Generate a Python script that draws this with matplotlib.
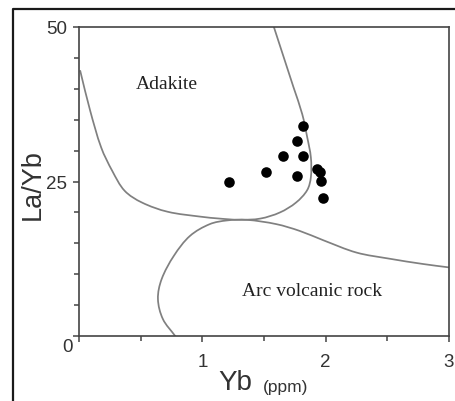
import math
import matplotlib
matplotlib.use("Agg")
import matplotlib.pyplot as plt
from matplotlib.lines import Line2D
from matplotlib.path import Path
from matplotlib.patches import PathPatch
from matplotlib.transforms import ScaledTranslation

# Sample analyses (Yb in ppm, La/Yb ratio)
yb = [1.22, 1.52, 1.65, 1.77, 1.82, 1.82, 1.77, 1.93, 1.955, 1.96, 1.98]
la_yb = [25.0, 26.5, 29.2, 31.6, 34.0, 29.1, 25.9, 27.1, 26.5, 25.1, 22.4]

# Adakite field boundary
adakite_x = [0.01, 0.09, 0.18, 0.27, 0.37, 0.51, 0.72, 0.99, 1.14, 1.30, 1.47,
             1.63, 1.76, 1.85, 1.88, 1.88, 1.85, 1.81, 1.74, 1.66, 1.58]
adakite_y = [42.9, 36.5, 30.5, 26.7, 23.5, 21.6, 20.1, 19.3, 19.0, 18.8, 19.0,
             20.0, 21.6, 23.6, 25.7, 28.9, 32.2, 35.9, 40.2, 45.1, 50.0]

# Arc volcanic rock field boundary
arc_x = [3.0, 2.79, 2.52, 2.25, 1.98, 1.79, 1.60, 1.36, 1.20, 1.06, 0.90,
         0.77, 0.67, 0.64, 0.68, 0.78]
arc_y = [11.1, 11.65, 12.5, 13.5, 15.5, 17.0, 18.1, 18.8, 18.7, 18.1, 16.2,
         13.0, 9.2, 6.0, 2.75, 0.0]

x_ticks = [0, 1, 2, 3]
x_tick_labels = ["", "1", "2", "3"]
y_ticks = [0, 25, 50]
y_tick_labels = ["0", "25", "50"]

# approximate screen scale of one data unit, used to keep curves round
SX, SY = 123.3, 6.18


def smooth_path(xs, ys):
    """Cubic Bezier path through every vertex with chord-scaled tangents."""
    pts = [(x * SX, y * SY) for x, y in zip(xs, ys)]
    n = len(pts)

    def unit_tangent(i):
        a = pts[max(i - 1, 0)]
        b = pts[min(i + 1, n - 1)]
        dx, dy = b[0] - a[0], b[1] - a[1]
        d = math.hypot(dx, dy) or 1.0
        return dx / d, dy / d

    tangents = [unit_tangent(i) for i in range(n)]
    verts = [pts[0]]
    codes = [Path.MOVETO]
    for i in range(n - 1):
        p1, p2 = pts[i], pts[i + 1]
        L = math.hypot(p2[0] - p1[0], p2[1] - p1[1]) / 3
        t1, t2 = tangents[i], tangents[i + 1]
        c1 = (p1[0] + t1[0] * L, p1[1] + t1[1] * L)
        c2 = (p2[0] - t2[0] * L, p2[1] - t2[1] * L)
        verts += [c1, c2, p2]
        codes += [Path.CURVE4] * 3
    verts = [(x / SX, y / SY) for x, y in verts]
    return Path(verts, codes)


W, H, DPI = 455, 402, 100
fig = plt.figure(figsize=(W / DPI, H / DPI), dpi=DPI)
fig.patch.set_facecolor("white")

# outer frame (open to the right and bottom)
fig.add_artist(Line2D([13 / W, 13 / W, 1.0], [0.0, 1 - 10 / H, 1 - 10 / H],
                      transform=fig.transFigure, color="#1a1a1a", lw=1.6))

ax = fig.add_axes([79 / W, (H - 337) / H, 370 / W, 309 / H])
ax.set_xlim(0, 3)
ax.set_ylim(0, 50)

line_col = "#808080"
for xs, ys in ((adakite_x, adakite_y), (arc_x, arc_y)):
    ax.add_patch(PathPatch(smooth_path(xs, ys), facecolor="none",
                           edgecolor=line_col, lw=1.25, capstyle="round"))
ax.scatter(yb, la_yb, s=58, color="black", zorder=3, linewidths=0)

serif = ["Liberation Serif", "DejaVu Serif"]
ax.text(0.711, 40.9, "Adakite", family=serif, fontsize=14, color="#222222",
        ha="center", va="center")
ax.text(1.887, 7.3, "Arc volcanic rock", family=serif, fontsize=14,
        color="#222222", ha="center", va="center")

sans = ["Liberation Sans", "DejaVu Sans"]
spine_col = "#444444"
for s in ax.spines.values():
    s.set_color(spine_col)
    s.set_linewidth(1.2)

ax.set_xticks(x_ticks)
ax.set_xticklabels(x_tick_labels)
ax.set_xticks([0.5, 1.5, 2.5], minor=True)
ax.set_yticks(y_ticks)
ax.set_yticklabels(y_tick_labels)
ax.set_yticks([5, 10, 15, 20, 30, 35, 40, 45], minor=True)

ax.tick_params(axis="both", which="both", direction="out", color=spine_col,
               width=1.1, labelcolor="#333333")
ax.tick_params(axis="both", which="major", length=4)
ax.tick_params(axis="both", which="minor", length=3.5)
ax.tick_params(axis="x", which="major", pad=8, labelsize=13.5)
ax.tick_params(axis="y", which="major", pad=4.5, labelsize=13.5)
for lab in ax.get_xticklabels() + ax.get_yticklabels():
    lab.set_family(sans)

# the origin label sits slightly below and right of the axis corner
zero = ax.get_yticklabels()[0]
zero.set_transform(zero.get_transform() +
                   ScaledTranslation(6 / DPI, -9 / DPI, fig.dpi_scale_trans))

ax.set_ylabel("La/Yb", family=sans, fontsize=19.5, color="#333333",
              va="center")
ax.yaxis.set_label_coords(-0.124, 0.492)
ax.set_xlabel("Yb", family=sans, fontsize=20, color="#333333", va="center")
ax.xaxis.set_label_coords(0.4216, -0.149)
ax.text(0.557, -0.162, "(ppm)", transform=ax.transAxes, family=sans,
        fontsize=12.5, color="#333333", ha="center", va="center")

fig.savefig("out.png", dpi=DPI, facecolor="white")
